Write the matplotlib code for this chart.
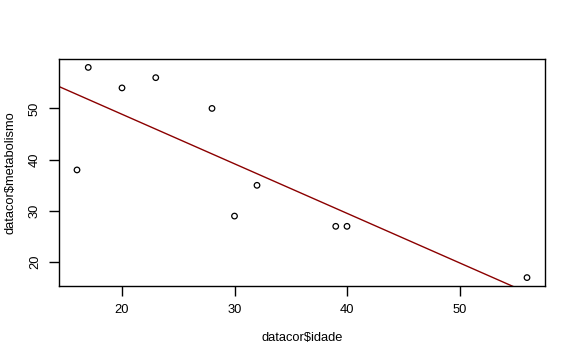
import matplotlib
matplotlib.use('Agg')
import matplotlib.pyplot as plt
import numpy as np

plt.rcParams['font.family'] = ['Liberation Sans', 'DejaVu Sans']

# Data
idade = [16, 17, 20, 23, 28, 30, 32, 39, 40, 56]
metabolismo = [38, 58, 54, 56, 50, 29, 35, 27, 27, 17]

x_ticks = [20, 30, 40, 50]
y_ticks = [20, 30, 40, 50]

fig = plt.figure(figsize=(5.76, 3.6), dpi=100)
ax = fig.add_axes([59 / 576, 74 / 360, 486 / 576, 227 / 360])

ax.scatter(idade, metabolismo, s=16, facecolors='none', edgecolors='black', linewidths=0.9, zorder=3)

# Least squares line (abline(lm(...)))
slope, intercept = np.polyfit(idade, metabolismo, 1)
xl = np.array([0, 100])
ax.plot(xl, intercept + slope * xl, color='#8B0000', linewidth=1)

# R default 4% padding
xr = max(idade) - min(idade)
yr = max(metabolismo) - min(metabolismo)
ax.set_xlim(min(idade) - 0.04 * xr, max(idade) + 0.04 * xr)
ax.set_ylim(min(metabolismo) - 0.04 * yr, max(metabolismo) + 0.04 * yr)

ax.set_xticks(x_ticks)
ax.set_yticks(y_ticks)
ax.set_xticklabels([str(t) for t in x_ticks])
ax.set_yticklabels([str(t) for t in y_ticks], rotation=90, va='center')
ax.tick_params(axis='both', length=7, width=1, labelsize=9.3, pad=6)

for s in ax.spines.values():
    s.set_linewidth(1)

ax.set_xlabel(r'datacor\$idade', fontsize=9.3)
ax.set_ylabel(r'datacor\$metabolismo', fontsize=9.3)
ax.xaxis.set_label_coords(0.5, -(338 - 286) / 227)
ax.yaxis.set_label_coords(-(59 - 11) / 486, 0.5)
ax.xaxis.label.set_va('center')
ax.yaxis.label.set_va('center')

plt.savefig('out.png', dpi=100)
